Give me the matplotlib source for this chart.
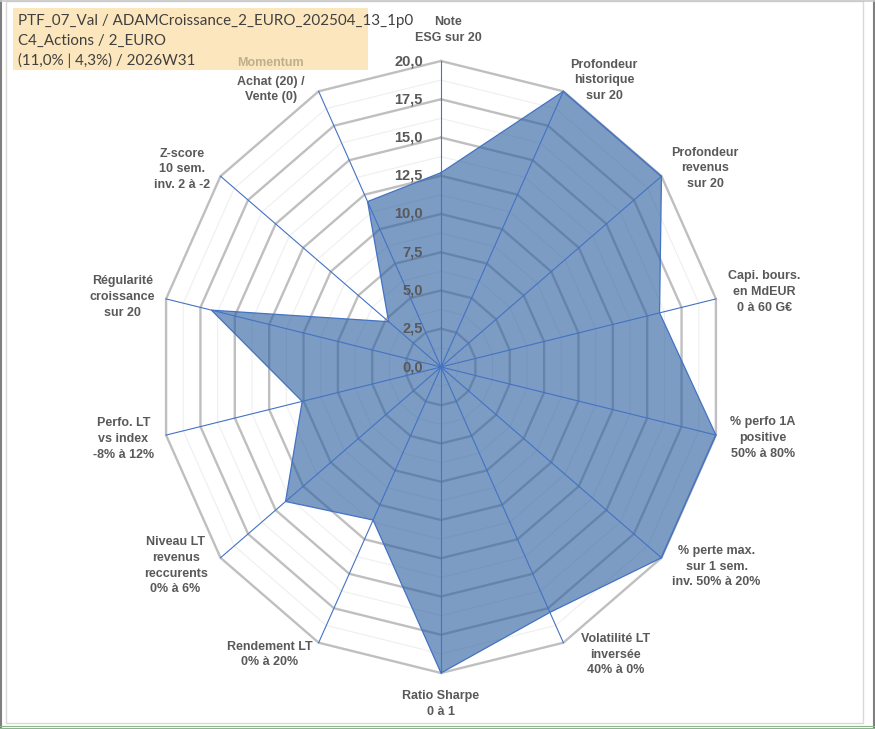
import numpy as np
import matplotlib
matplotlib.use("Agg")
import matplotlib.pyplot as plt
from matplotlib.patches import Rectangle, Polygon
from matplotlib.lines import Line2D

# ---------------- data ----------------
categories = [
    "Note\nESG sur 20",
    "Profondeur\nhistorique\nsur 20",
    "Profondeur\nrevenus\nsur 20",
    "Capi. bours.\nen MdEUR\n0 à 60 G€",
    "% perfo 1A\npositive\n50% à 80%",
    "% perte max.\nsur 1 sem.\ninv. 50% à 20%",
    "Volatilité LT\ninversée\n40% à 0%",
    "Ratio Sharpe\n0 à 1",
    "Rendement LT\n0% à 20%",
    "Niveau LT\nrevenus\nreccurents\n0% à 6%",
    "Perfo. LT\nvs index\n-8% à 12%",
    "Régularité\ncroissance\nsur 20",
    "Z-score\n10 sem.\ninv. 2 à -2",
    "Achat (20) /\nVente (0)",
]
momentum_title = "Momentum"
values = [12.7, 20.0, 20.0, 15.9, 20.0, 20.0, 17.8, 20.0, 11.1, 14.1, 10.1, 16.7, 4.75, 12.0]
tick_values = [0.0, 2.5, 5.0, 7.5, 10.0, 12.5, 15.0, 17.5, 20.0]
tick_labels = ["0,0", "2,5", "5,0", "7,5", "10,0", "12,5", "15,0", "17,5", "20,0"]
minor_step = 1.25
rmax = 20.0
title_lines = ["PTF_07_Val / ADAMCroissance_2_EURO_202504_13_1p0",
               "C4_Actions / 2_EURO",
               "(11,0% | 4,3%) / 2026W31"]

# label placement (style): ha, dx px, dy px (dy positive = down)
label_style = [
    ("center", 7, -31), ("left", 7, -11), ("left", 10, -8), ("left", 12, -7),
    ("left", 14, 3), ("left", 11, 9), ("left", 18, 12), ("center", 0, 31),
    ("right", -6, 12), ("right", -13, 8), ("right", -12, 4), ("right", -11, -2),
    ("right", -10, -7), ("right", -14, -2),
]

# ---------------- figure ----------------
W, H = 875, 729
fig = plt.figure(figsize=(W / 100, H / 100), dpi=100)
fig.patch.set_facecolor("white")

# title box (drawn under everything)
box = Rectangle((13 / W, 1 - 70 / H), (368 - 13) / W, (70 - 8) / H,
                transform=fig.transFigure, facecolor="#FCE6BD",
                edgecolor="none", zorder=-5)
fig.add_artist(box)

cx, cy = 441, 367          # centre in px (from top)
Rh, Rv = 282, 306          # radius of 20 in px horizontally / vertically
ax = fig.add_axes([(cx - Rh) / W, (H - (cy + Rv)) / H, 2 * Rh / W, 2 * Rv / H])
ax.set_xlim(-rmax, rmax)
ax.set_ylim(-rmax, rmax)
ax.set_aspect("auto")
ax.axis("off")
ax.patch.set_alpha(0)

n = len(categories)
theta = np.arange(n) * 2 * np.pi / n
sx, sy = np.sin(theta), np.cos(theta)

# rings
rings = np.arange(minor_step, rmax + 1e-9, minor_step)
for r in rings:
    major = abs((r / 2.5) - round(r / 2.5)) < 1e-9
    xs = np.append(r * sx, r * sx[0])
    ys = np.append(r * sy, r * sy[0])
    ax.plot(xs, ys, color="#BFBFBF" if major else "#EFEFEF",
            lw=1.7 if major else 0.8, zorder=1 if major else 0.5,
            solid_joinstyle="miter", clip_on=False)

# filled series
px = np.array(values) * sx
py = np.array(values) * sy
poly = Polygon(np.column_stack([px, py]), closed=True, facecolor="#2C609F",
               alpha=0.62, edgecolor="none", zorder=2, clip_on=False)
ax.add_patch(poly)
ax.plot(np.append(px, px[0]), np.append(py, py[0]), color="#4472C4", lw=0.9,
        zorder=3, clip_on=False)

# spokes
for i in range(n):
    ax.plot([0, rmax * sx[i]], [0, rmax * sy[i]], color="#4472C4", lw=0.8,
            zorder=3, clip_on=False)

# tick labels
for v, t in zip(tick_values, tick_labels):
    ax.annotate(t, xy=(0, v), xytext=(-13, 0), textcoords="offset points",
                ha="right", va="center", fontsize=10.5, fontweight="bold",
                color="#595959", family="Liberation Sans", zorder=4)

# category labels
for i, lab in enumerate(categories):
    ha, dx, dy = label_style[i]
    ax.annotate(lab, xy=(rmax * sx[i], rmax * sy[i]),
                xytext=(dx * 0.72, -dy * 0.72), textcoords="offset points",
                ha=ha, va="center", multialignment="center",
                fontsize=9.0, fontweight="bold", color="#595959",
                family="Liberation Sans", linespacing=1.4, annotation_clip=False)
# Momentum title line
ax.annotate(momentum_title, xy=(rmax * sx[-1], rmax * sy[-1]),
            xytext=(-48 * 0.72, 28 * 0.72), textcoords="offset points",
            ha="center", va="center", fontsize=9.0, fontweight="bold",
            color="#BFAF8C", family="Liberation Sans", annotation_clip=False,
            zorder=6)

for k, line in enumerate(title_lines):
    fig.text(18 / W, 1 - (21 + 19.5 * k) / H, line, ha="left", va="center",
             fontsize=10.9, color="#404040", family="Lato")

# frames
fig.add_artist(Rectangle((6 / W, 1 - 723 / H), (863 - 6) / W, (723 - 1) / H,
                         transform=fig.transFigure, facecolor="none",
                         edgecolor="#D9D9D9", lw=1.0, zorder=-6))
fig.add_artist(Line2D([0.5 / W, 0.5 / W], [0, 1], transform=fig.transFigure, color="#7F7F7F", lw=1.5))
fig.add_artist(Line2D([873.5 / W, 873.5 / W], [0, 1], transform=fig.transFigure, color="#7F7F7F", lw=1.5))
fig.add_artist(Line2D([0, 1], [1 - 0.5 / H, 1 - 0.5 / H], transform=fig.transFigure, color="#C8C8C8", lw=1.2))
fig.add_artist(Line2D([0, 1], [1 - 726 / H, 1 - 726 / H], transform=fig.transFigure, color="#8DB38D", lw=0.8))
fig.add_artist(Line2D([0, 1], [1 - 728.3 / H, 1 - 728.3 / H], transform=fig.transFigure, color="#8DB38D", lw=0.8))

fig.savefig("out.png", dpi=100, facecolor="white")
